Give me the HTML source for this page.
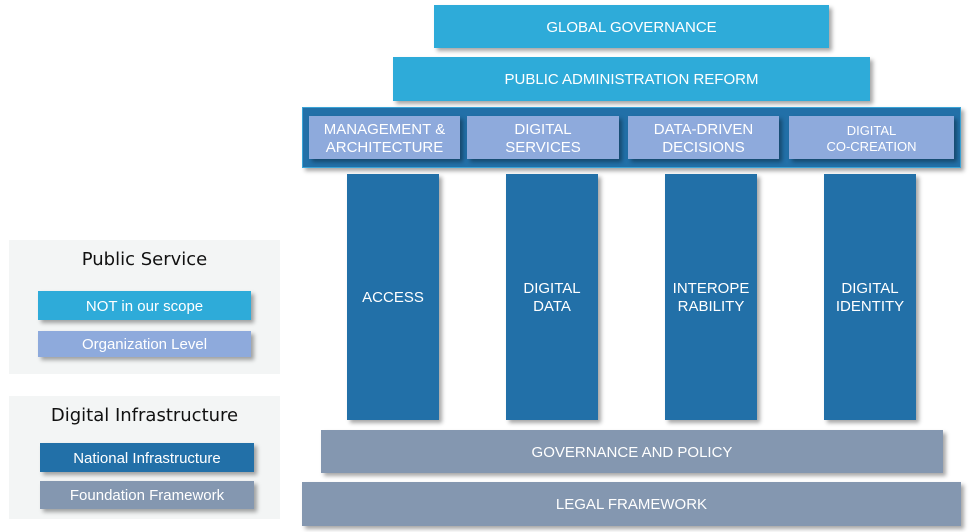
<!DOCTYPE html>
<html><head><style>
body{margin:0;width:975px;height:532px;background:#fff;position:relative;overflow:hidden;font-family:"Liberation Sans",sans-serif;}
.b{position:absolute;display:flex;align-items:center;justify-content:center;text-align:center;color:#fff;box-shadow:3px 3px 4px rgba(0,0,0,0.35);line-height:18px;box-sizing:border-box;padding-top:2px;}
.c{background:#2eabd9;font-size:15px}
.o{background:#8eaadc;font-size:15px}
.n{background:#2270a8;font-size:15px}
.f{background:#8497b0;font-size:15px}
.p{position:absolute;background:#f3f5f5;}
.t{position:absolute;width:100%;text-align:center;font-family:"DejaVu Sans","Liberation Sans",sans-serif;font-size:18px;color:#111}
</style></head><body>
<div class="p" style="left:9px;top:240px;width:271px;height:134px"><div class="t" style="top:9px">Public Service</div></div>
<div class="p" style="left:9px;top:396px;width:271px;height:123px"><div class="t" style="top:9px">Digital Infrastructure</div></div>
<div class="b c" style="left:38px;top:291px;width:213px;height:29px">NOT in our scope</div>
<div class="b o" style="left:38px;top:331px;width:213px;height:26px">Organization Level</div>
<div class="b n" style="left:40px;top:443px;width:214px;height:29px">National Infrastructure</div>
<div class="b f" style="left:40px;top:481px;width:214px;height:28px">Foundation Framework</div>

<div class="b c" style="left:434px;top:5px;width:395px;height:43px">GLOBAL GOVERNANCE</div>
<div class="b c" style="left:393px;top:57px;width:477px;height:44px">PUBLIC ADMINISTRATION REFORM</div>
<div class="b n" style="left:302px;top:107px;width:659px;height:61px;border:1px solid #3aa3d6"></div>
<div class="b o" style="left:309px;top:116px;width:151px;height:43px">MANAGEMENT &amp;<br>ARCHITECTURE</div>
<div class="b o" style="left:467px;top:116px;width:152px;height:43px">DIGITAL<br>SERVICES</div>
<div class="b o" style="left:628px;top:116px;width:151px;height:43px">DATA-DRIVEN<br>DECISIONS</div>
<div class="b o" style="left:789px;top:116px;width:165px;height:43px;font-size:13px;line-height:16px">DIGITAL<br>CO-CREATION</div>
<div class="b n" style="left:347px;top:174px;width:92px;height:246px">ACCESS</div>
<div class="b n" style="left:506px;top:174px;width:92px;height:246px">DIGITAL<br>DATA</div>
<div class="b n" style="left:665px;top:174px;width:92px;height:246px">INTEROPE<br>RABILITY</div>
<div class="b n" style="left:824px;top:174px;width:92px;height:246px">DIGITAL<br>IDENTITY</div>
<div class="b f" style="left:321px;top:430px;width:622px;height:43px">GOVERNANCE AND POLICY</div>
<div class="b f" style="left:302px;top:482px;width:659px;height:44px">LEGAL FRAMEWORK</div>
</body></html>
